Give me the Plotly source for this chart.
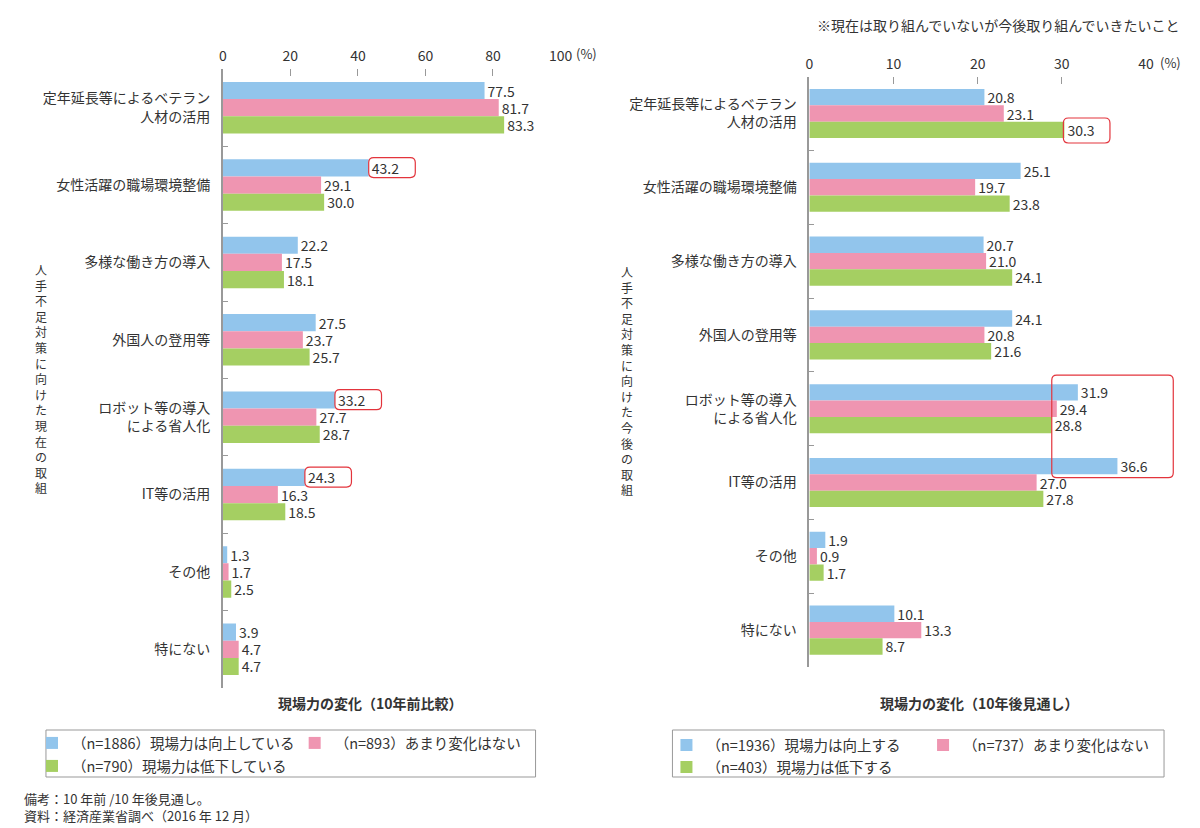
import plotly.graph_objects as go

FONT = "Noto Sans CJK JP"
TXT = "#333333"

categories_now = ["定年延長等によるベテラン<br>人材の活用", "女性活躍の職場環境整備", "多様な働き方の導入",
                  "外国人の登用等", "ロボット等の導入<br>による省人化", "IT等の活用", "その他", "特にない"]
categories_future = categories_now

# Left panel: 現場力の変化（10年前比較）
now_up = [77.5, 43.2, 22.2, 27.5, 33.2, 24.3, 1.3, 3.9]
now_same = [81.7, 29.1, 17.5, 23.7, 27.7, 16.3, 1.7, 4.7]
now_down = [83.3, 30.0, 18.1, 25.7, 28.7, 18.5, 2.5, 4.7]
now_names = ["（n=1886）現場力は向上している", "（n=893）あまり変化はない", "（n=790）現場力は低下している"]

# Right panel: 現場力の変化（10年後見通し）
fut_up = [20.8, 25.1, 20.7, 24.1, 31.9, 36.6, 1.9, 10.1]
fut_same = [23.1, 19.7, 21.0, 20.8, 29.4, 27.0, 0.9, 13.3]
fut_down = [30.3, 23.8, 24.1, 21.6, 28.8, 27.8, 1.7, 8.7]
fut_names = ["（n=1936）現場力は向上する", "（n=737）あまり変化はない", "（n=403）現場力は低下する"]

left_ticks = [0, 20, 40, 60, 80, 100]
right_ticks = [0, 10, 20, 30, 40]
left_range = [0, 100]
right_range = [0, 40]

COLORS = ["#92c5ec", "#ef95b1", "#a5cf62"]
RED = "#e3343c"

W = 1200.0          # design coordinates (reference picture)
H = 828.0
FW = 1215           # figure width (page is captured slightly wider than 1200)
SX = FW / W
LX = [219 / W, 557 / W]
LY = [1 - 688 / H, 1 - 69 / H]
RX = [806 / W, 1143 / W]
RY = [1 - 667 / H, 1 - 76.6 / H]

fig = go.Figure()


def add_bars(vals_list, names, cats, xa, ya, legends):
    for vals, name, col, lg in zip(vals_list, names, COLORS, legends):
        fig.add_trace(go.Bar(
            y=cats, x=vals, orientation="h", name=name,
            marker=dict(color=col, line=dict(width=0)),
            texttemplate="%{x:.1f}", textposition="outside",
            textfont=dict(family=FONT, size=14, color=TXT),
            constraintext="none", cliponaxis=False,
            xaxis=xa, yaxis=ya, legend=lg, hoverinfo="skip",
        ))


add_bars([now_up, now_same, now_down], now_names, categories_now, "x", "y",
         ["legend", "legend", "legend2"])
add_bars([fut_up, fut_same, fut_down], fut_names, categories_future, "x2", "y2",
         ["legend3", "legend3", "legend4"])

axis_common = dict(showgrid=False, zeroline=False, fixedrange=True)

fig.update_layout(
    width=FW, height=828, autosize=False,
    margin=dict(l=0, r=0, t=0, b=0),
    paper_bgcolor="white", plot_bgcolor="white",
    barmode="group", bargap=0.335, bargroupgap=0,
    font=dict(family=FONT, size=14, color=TXT),
    xaxis=dict(domain=LX, range=left_range, side="top", anchor="y",
               tickvals=left_ticks, ticks="inside", ticklen=7, tickcolor="#999999",
               showline=False, tickfont=dict(size=14, color=TXT), ticklabelstandoff=4,
               **axis_common),
    yaxis=dict(domain=LY, type="category", autorange="reversed",
               anchor="x", showline=True, linecolor="#999999", linewidth=1.5,
               ticks="inside", tickson="boundaries", ticklen=5, tickcolor="#999999",
               tickfont=dict(size=14, color=TXT), ticklabelstandoff=8, **axis_common),
    xaxis2=dict(domain=RX, range=right_range, side="top", anchor="y2",
                tickvals=right_ticks, ticks="inside", ticklen=7, tickcolor="#999999",
                showline=False, tickfont=dict(size=14, color=TXT), ticklabelstandoff=4,
                **axis_common),
    yaxis2=dict(domain=RY, type="category", autorange="reversed",
                anchor="x2", showline=True, linecolor="#999999", linewidth=1.5,
                ticks="inside", tickson="boundaries", ticklen=5, tickcolor="#999999",
                tickfont=dict(size=14, color=TXT), ticklabelstandoff=8, **axis_common),
)

leg_common = dict(orientation="h", xanchor="left", yanchor="middle", bgcolor="rgba(0,0,0,0)",
                  borderwidth=0, font=dict(family=FONT, size=14.5, color=TXT),
                  itemclick=False, itemdoubleclick=False, tracegroupgap=0)
fig.update_layout(
    legend=dict(x=28 / W, y=1 - 743 / H, entrywidth=215 * SX, **leg_common),
    legend2=dict(x=28 / W, y=1 - 766 / H, entrywidth=215 * SX, **leg_common),
    legend3=dict(x=663 / W, y=1 - 745 / H, entrywidth=209 * SX, **leg_common),
    legend4=dict(x=663 / W, y=1 - 767 / H, entrywidth=209 * SX, **leg_common),
)

shapes = []
# legend frames
shapes.append(dict(type="rect", xref="paper", yref="paper", x0=42 / W, x1=532 / W,
                   y0=1 - 777 / H, y1=1 - 730 / H, line=dict(color="#999999", width=1)))
shapes.append(dict(type="rect", xref="paper", yref="paper", x0=669 / W, x1=1161 / W,
                   y0=1 - 777 / H, y1=1 - 730 / H, line=dict(color="#999999", width=1)))


def rrect(x0, x1, y0, y1, r=5):
    x0, x1 = x0 * SX, x1 * SX
    return (f"M{x0 + r},{y0} L{x1 - r},{y0} Q{x1},{y0} {x1},{y0 + r} "
            f"L{x1},{y1 - r} Q{x1},{y1} {x1 - r},{y1} L{x0 + r},{y1} "
            f"Q{x0},{y1} {x0},{y1 - r} L{x0},{y0 + r} Q{x0},{y0} {x0 + r},{y0} Z")


def hl_box(xdom, ydom, rng, ncat, xval, yidx, px0, px1, py0, py1):
    # anchor in paper coordinates derived from the axis scale (value & category index)
    ax = xdom[0] + (xval - rng[0]) / (rng[1] - rng[0]) * (xdom[1] - xdom[0])
    ay = ydom[1] - (yidx + 0.5) / ncat * (ydom[1] - ydom[0])
    shapes.append(dict(type="path", xref="paper", yref="paper", xsizemode="pixel", ysizemode="pixel",
                       xanchor=ax, yanchor=ay, path=rrect(px0, px1, py0, py1),
                       line=dict(color=RED, width=1.2)))


n = len(categories_now)
# highlighted labels (left: blue bars of groups 2, 5, 6)
for i in [1, 4, 5]:
    hl_box(LX, LY, left_range, n, now_up[i], i, 0, 46, 7.5, 27.5)
# right: green bar of group 1
hl_box(RX, RY, right_range, n, fut_down[0], 0, -1, 45, -29.5, -4.5)
# right: big box around groups 5-6
hl_box(RX, RY, right_range, n, min(fut_up[4], fut_same[4], fut_down[4]), 4, 0, 120, -69, 33.5)

fig.update_layout(shapes=shapes)

ann = []


def A(text, x, y, size=14, xanchor="center", bold=False, **kw):
    if bold:
        text = f"<b>{text}</b>"
    ann.append(dict(text=text, x=x / W, y=1 - y / H, xref="paper", yref="paper",
                    showarrow=False, xanchor=xanchor, yanchor="middle",
                    font=dict(family=FONT, size=size, color=TXT), **kw))


A("(%)", 570, 53, size=13, xanchor="left")
A("(%)", 1155, 62, size=13, xanchor="left")
A("現場力の変化（10年前比較）", 367, 703, size=14, bold=True)
A("現場力の変化（10年後見通し）", 976, 703, size=14, bold=True)
A("※現在は取り組んでいないが今後取り組んでいきたいこと", 1179, 25, size=14, xanchor="right")
A("<br>".join(list("人手不足対策に向けた現在の取組")), 37, 378, size=12)
A("<br>".join(list("人手不足対策に向けた今後の取組")), 624, 380, size=12)
A("備考：10 年前 /10 年後見通し。", 18, 798, size=13, xanchor="left")
A("資料：経済産業省調べ（2016 年 12 月）", 18, 815, size=13, xanchor="left")
fig.update_layout(annotations=ann)

fig.write_html("out.html", config={"displayModeBar": False},
               post_script="document.body.style.margin='0';document.body.style.overflow='hidden';")
